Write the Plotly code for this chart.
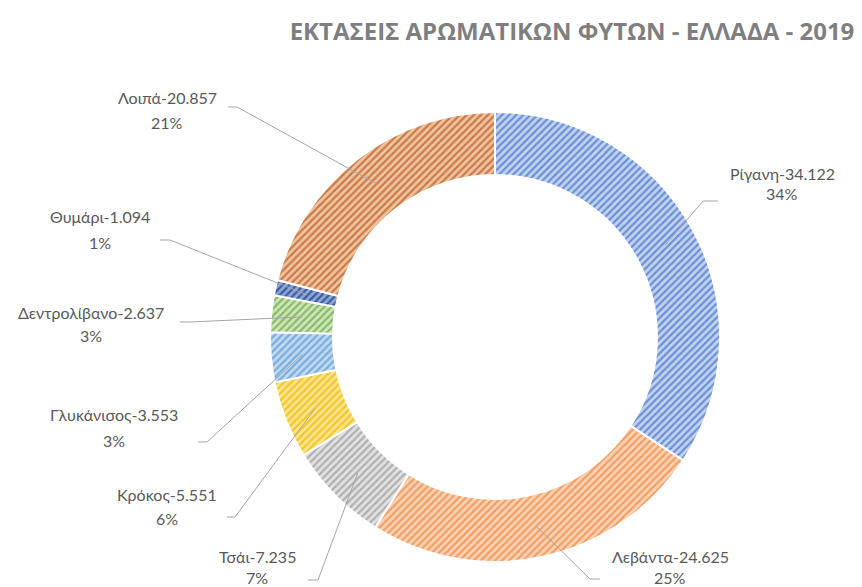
import math
import plotly.graph_objects as go

# ---- data ----
categories = ["Ρίγανη", "Λεβάντα", "Τσάι", "Κρόκος", "Γλυκάνισος", "Δεντρολίβανο", "Θυμάρι", "Λοιπά"]
values = [34.122, 24.625, 7.235, 5.551, 3.553, 2.637, 1.094, 20.857]
pct_labels = ["34%", "25%", "7%", "6%", "3%", "3%", "1%", "21%"]
title_text = "ΕΚΤΑΣΕΙΣ ΑΡΩΜΑΤΙΚΩΝ ΦΥΤΩΝ - ΕΛΛΑΔΑ - 2019"

# ---- styles ----
bg_colors = ["#c3d3ef", "#fad3b3", "#e2e2e2", "#ffe48f", "#c0d9ef", "#cde5bd", "#8ea7d6", "#efc4a2"]
fg_colors = ["#6a90d8", "#f29f66", "#b0b0b0", "#f3c72a", "#7aaedd", "#8abb66", "#3a5d9c", "#cc7a45"]

W, H = 862, 587
OFF = 8                              # page body margin offset
CX, CY, R = 495, 337, 225            # donut centre / outer radius (screen pixels)
HOLE = 0.72

# label layout (screen pixels): text centre x, line-1 y, line-2 y, elbow start x, elbow end x, elbow y
label_pos = [
    (782, 173, 193, 718, 703, 201),
    (670, 556, 577, 600, 590, 579),
    (257, 556, 577, 308, 318, 580),
    (167, 494, 518, 227, 235, 517),
    (114, 414, 440, 198, 207, 442),
    (91, 312, 335, 180, 190, 322),
    (100, 217, 242, 160, 170, 240),
    (167, 97, 122, 228, 237, 107),
]

def px(x):
    return (x - OFF) / W

def py(y):
    return 1 - (y - OFF) / H

fig = go.Figure(go.Pie(
    labels=categories,
    values=values,
    sort=False,
    direction="clockwise",
    rotation=0,
    hole=HOLE,
    textinfo="none",
    hoverinfo="label+value+percent",
    domain=dict(x=[px(CX - R), px(CX + R)], y=[py(CY + R), py(CY - R)]),
    marker=dict(
        colors=bg_colors,
        line=dict(color="white", width=2),
        pattern=dict(shape="/", fgcolor=fg_colors, bgcolor=bg_colors,
                     size=5, solidity=0.45, fillmode="replace"),
    ),
    showlegend=False,
))

total = sum(values)
cum = 0.0
shapes = []
annotations = []
rmid = R * (1 + HOLE) / 2
for cat, v, pct, lp in zip(categories, values, pct_labels, label_pos):
    mid = (cum + v / 2) / total
    cum += v
    ang = 2 * math.pi * mid
    ex = CX + rmid * math.sin(ang)
    ey = CY - rmid * math.cos(ang)
    tx, ty1, ty2, e1, e2, ly = lp
    path = f"M {px(e1)} {py(ly)} L {px(e2)} {py(ly)} L {px(ex)} {py(ey)}"
    shapes.append(dict(type="path", xref="paper", yref="paper", path=path,
                       line=dict(color="#a6a6a6", width=1)))
    annotations.append(dict(x=px(tx), y=py(ty1), xref="paper", yref="paper",
                            text=f"{cat}-{v:.3f}", showarrow=False,
                            xanchor="center", yanchor="middle",
                            font=dict(family="Lato", size=16, color="#595959")))
    annotations.append(dict(x=px(tx), y=py(ty2), xref="paper", yref="paper",
                            text=pct, showarrow=False,
                            xanchor="center", yanchor="middle",
                            font=dict(family="Lato", size=16, color="#595959")))

fig.update_layout(
    width=W, height=H,
    margin=dict(l=0, r=0, t=0, b=0),
    paper_bgcolor="white",
    plot_bgcolor="white",
    title=dict(text=title_text, x=px(572), xanchor="center", y=py(32), yanchor="middle",
               font=dict(family="Open Sans", size=24, color="#7f7f7f", weight="bold")),
    shapes=shapes,
    annotations=annotations,
)

fig.write_html("out.html")
